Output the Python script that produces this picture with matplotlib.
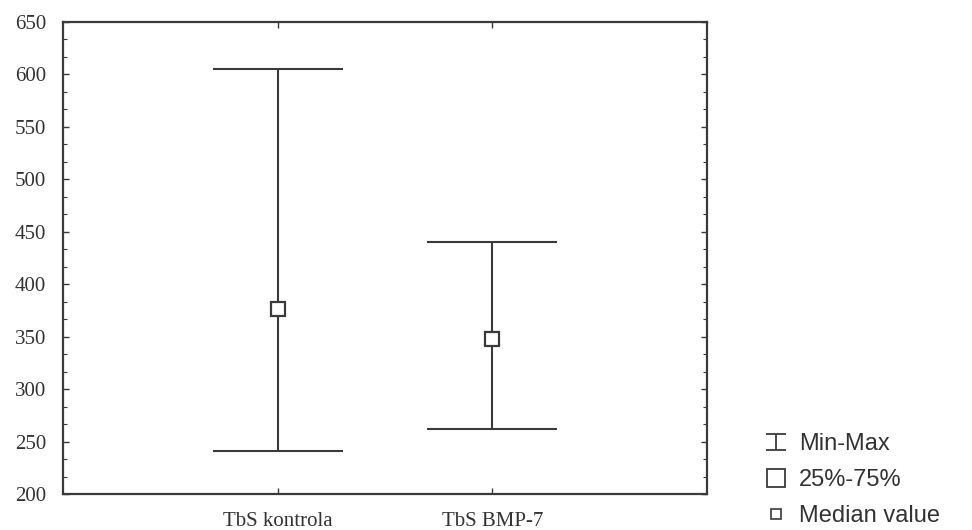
import matplotlib
matplotlib.use("Agg")
import matplotlib.pyplot as plt
from matplotlib.path import Path
from matplotlib.lines import Line2D
from matplotlib.ticker import AutoMinorLocator

groups = ["TbS kontrola", "TbS BMP-7"]
mins = [241, 262]
maxs = [605, 440]
medians = [376, 348]
legend_labels = ["Min-Max", "25%-75%", "Median value"]

ink = "#3a3a3a"
x = [1, 2]

fig = plt.figure(figsize=(9.72, 5.30), dpi=100)
ax = fig.add_axes([0.0648, 0.0679, 0.6626, 0.8906])

# whiskers min-max, drawn around the median
lower = [m - lo for m, lo in zip(medians, mins)]
upper = [hi - m for m, hi in zip(medians, maxs)]
ax.errorbar(x, medians, yerr=[lower, upper], fmt="none", ecolor=ink,
            elinewidth=1.5, capsize=47, capthick=1.5, zorder=2)
ax.plot(x, medians, linestyle="none", marker="s", markersize=10,
        markerfacecolor="white", markeredgecolor=ink, markeredgewidth=1.6, zorder=3)

ax.set_xlim(0, 3)
ax.set_ylim(200, 650)
ax.set_xticks(x)
ax.set_xticklabels(groups)
ax.set_yticks(range(200, 651, 50))
ax.yaxis.set_minor_locator(AutoMinorLocator(3))
ax.tick_params(direction="in", top=True, right=True, length=4, width=1, colors=ink,
               labelsize=15, labelcolor="#333333")
ax.tick_params(which="minor", direction="in", right=True, length=3, width=0.8, colors=ink)
ax.tick_params(axis="x", pad=13)
ax.tick_params(axis="y", pad=12)
for lab in ax.get_xticklabels() + ax.get_yticklabels():
    lab.set_family("Liberation Serif")
for s in ax.spines.values():
    s.set_linewidth(1.6)
    s.set_color(ink)

# legend symbols
ibeam = Path([(-0.5, -0.4), (0.5, -0.4), (0, -0.4), (0, 0.4), (-0.5, 0.4), (0.5, 0.4)],
             [Path.MOVETO, Path.LINETO, Path.MOVETO, Path.LINETO, Path.MOVETO, Path.LINETO])
handles = [
    Line2D([], [], linestyle="none", marker=ibeam, markersize=15,
           markeredgecolor=ink, markeredgewidth=1.3),
    Line2D([], [], linestyle="none", marker="s", markersize=13,
           markerfacecolor="white", markeredgecolor=ink, markeredgewidth=1.3),
    Line2D([], [], linestyle="none", marker="s", markersize=6.5,
           markerfacecolor="white", markeredgecolor=ink, markeredgewidth=1.2),
]
fig.legend(handles, legend_labels, loc="center left", bbox_to_anchor=(0.764, 0.094),
           frameon=False, handlelength=1.0, handletextpad=0.5, labelspacing=0.6,
           prop={"family": "Liberation Sans", "size": 17}, labelcolor="#333333")

fig.savefig("out.png", dpi=100)
